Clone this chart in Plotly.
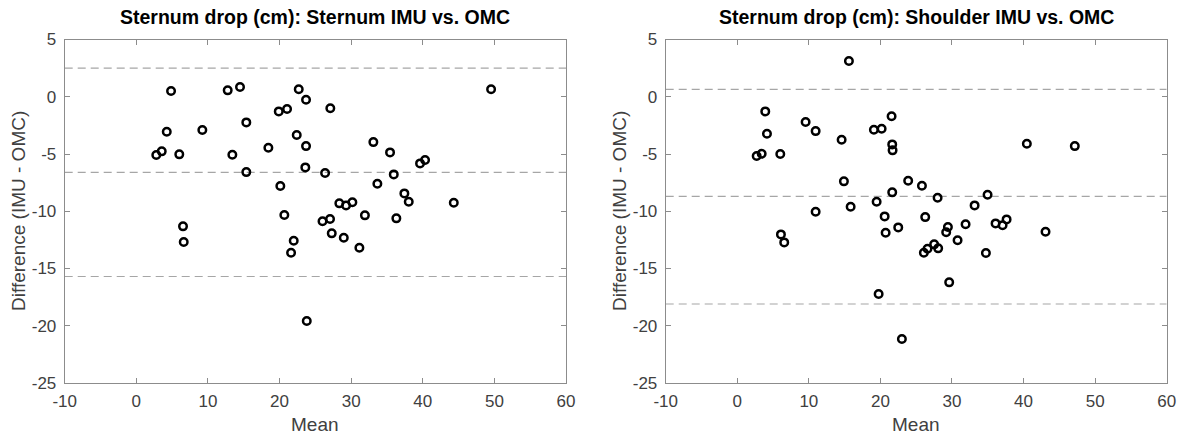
import plotly.graph_objects as go

# ---------------- data ----------------
left_title = "Sternum drop (cm): Sternum IMU vs. OMC"
right_title = "Sternum drop (cm): Shoulder IMU vs. OMC"
x_label = "Mean"
y_label = "Difference (IMU - OMC)"

x_range = [-10, 60]
y_range = [-25, 5]
x_ticks = [-10, 0, 10, 20, 30, 40, 50, 60]
x_tick_labels = ["-10", "0", "10", "20", "30", "40", "50", "60"]
y_ticks = [-25, -20, -15, -10, -5, 0, 5]
y_tick_labels = ["-25", "-20", "-15", "-10", "-5", "0", "5"]

left_mean = [4.85, 2.79, 3.55, 4.25, 6.0, 9.22, 12.76, 14.48, 15.36, 13.41, 15.36, 18.44,
             19.89, 21.05, 20.11, 22.68, 23.70, 22.40, 23.70, 23.6, 27.09, 26.36, 49.54,
             33.1, 35.43, 35.95, 33.66, 39.62, 40.32, 37.43, 38.04, 28.35, 29.29, 30.17,
             44.33, 26.0, 27.05, 31.92, 36.31, 27.29, 28.97, 31.15, 23.8, 20.67, 6.52,
             6.62, 21.98, 21.61]
left_diff = [0.5, -5.09, -4.77, -3.06, -5.03, -2.91, 0.56, 0.85, -2.24, -5.06, -6.58, -4.45,
             -1.28, -1.07, -7.8, 0.65, -0.26, -3.34, -4.31, -6.17, -1.01, -6.66, 0.65,
             -3.96, -4.86, -6.78, -7.6, -5.82, -5.53, -8.44, -9.17, -9.31, -9.49, -9.22,
             -9.26, -10.88, -10.68, -10.36, -10.62, -11.93, -12.31, -13.19, -19.59, -10.33,
             -11.32, -12.69, -12.58, -13.62]
left_bias = -6.6
left_upper = 2.5
left_lower = -15.7

right_mean = [15.6, 3.91, 4.15, 2.71, 3.41, 6.01, 9.55, 10.95, 14.58, 14.9, 19.09, 20.17,
              21.56, 21.65, 21.7, 21.65, 19.47, 15.84, 10.95, 23.88, 40.46, 47.16, 25.8,
              27.99, 33.16, 34.97, 6.1, 6.56, 20.59, 20.73, 22.49, 19.75, 23.0, 26.26,
              29.43, 29.19, 31.9, 30.78, 36.09, 37.07, 37.63, 34.74, 43.07, 26.07, 26.58,
              27.51, 28.07, 29.61]
right_diff = [3.12, -1.28, -3.23, -5.18, -4.98, -5.0, -2.21, -3.0, -3.75, -7.39, -2.88, -2.79,
              -1.71, -4.16, -4.68, -8.35, -9.17, -9.6, -10.04, -7.33, -4.1, -4.31, -7.77,
              -8.82, -9.49, -8.56, -12.02, -12.72, -10.45, -11.88, -11.41, -17.23, -21.16,
              -10.51, -11.38, -11.84, -11.14, -12.54, -11.06, -11.23, -10.71, -13.65, -11.79,
              -13.62, -13.27, -12.89, -13.24, -16.21]
right_bias = -8.7
right_upper = 0.65
right_lower = -18.1

# ---------------- figure ----------------
W, H = 1181, 439
FONT = "Liberation Sans, Arial, sans-serif"
TICK_COLOR = "#404040"
FRAME_COLOR = "#8c8c8c"
DASH_COLOR = "#a6a6a6"

# plot area in pixels
L_X0, L_X1 = 64.7, 566.0
R_X0, R_X1 = 665.7, 1166.7
Y_TOP, Y_BOT = 39.5, 383.0

fig = go.Figure()

panels = [
    ("x", "y", left_mean, left_diff, [left_upper, left_bias, left_lower]),
    ("x2", "y2", right_mean, right_diff, [right_upper, right_bias, right_lower]),
]
for xa, ya, mx, dy, lines in panels:
    for val in lines:
        fig.add_trace(go.Scatter(
            x=x_range, y=[val, val], mode="lines", xaxis=xa, yaxis=ya,
            line=dict(color=DASH_COLOR, width=1.2, dash="8px,5px"),
            hoverinfo="skip", showlegend=False))
    fig.add_trace(go.Scatter(
        x=mx, y=dy, mode="markers", xaxis=xa, yaxis=ya, showlegend=False,
        marker=dict(symbol="circle-open", size=7.5, color="black",
                    line=dict(color="black", width=2.5))))

axis_common = dict(
    showgrid=False, zeroline=False, showline=True, linecolor=FRAME_COLOR, linewidth=1,
    mirror="ticks", ticks="inside", ticklen=5, tickcolor=FRAME_COLOR, tickwidth=1,
    tickfont=dict(family=FONT, size=17, color=TICK_COLOR), automargin=False,
)
xaxis_common = dict(range=x_range, tickvals=x_ticks, ticktext=x_tick_labels,
                    ticklabelstandoff=3, **axis_common)
yaxis_common = dict(range=y_range, tickvals=y_ticks, ticktext=y_tick_labels,
                    ticklabelstandoff=4, **axis_common)

fig.update_layout(
    width=W, height=H,
    margin=dict(l=0, r=0, t=0, b=0, autoexpand=False),
    paper_bgcolor="white", plot_bgcolor="white",
    xaxis=dict(domain=[L_X0 / W, L_X1 / W], anchor="y", **xaxis_common),
    yaxis=dict(domain=[1 - Y_BOT / H, 1 - Y_TOP / H], anchor="x", **yaxis_common),
    xaxis2=dict(domain=[R_X0 / W, R_X1 / W], anchor="y2", **xaxis_common),
    yaxis2=dict(domain=[1 - Y_BOT / H, 1 - Y_TOP / H], anchor="x2", **yaxis_common),
)

annotations = []
for (x0, x1, title) in [(L_X0, L_X1, left_title), (R_X0, R_X1, right_title)]:
    cx = (x0 + x1) / 2 / W
    annotations.append(dict(
        text=f"<b>{title}</b>", x=cx, y=1 - 17 / H, xref="paper", yref="paper",
        xanchor="center", yanchor="middle", showarrow=False,
        font=dict(family=FONT, size=19.5, color="black")))
    annotations.append(dict(
        text=x_label, x=cx, y=1 - 424 / H, xref="paper", yref="paper",
        xanchor="center", yanchor="middle", showarrow=False,
        font=dict(family=FONT, size=19, color=TICK_COLOR)))
    annotations.append(dict(
        text=y_label, x=(x0 - 46) / W, y=1 - (Y_TOP + Y_BOT) / 2 / H, xref="paper",
        yref="paper", xanchor="center", yanchor="middle", textangle=-90,
        showarrow=False, font=dict(family=FONT, size=19, color=TICK_COLOR)))
fig.update_layout(annotations=annotations)

fig.write_html("out.html")
